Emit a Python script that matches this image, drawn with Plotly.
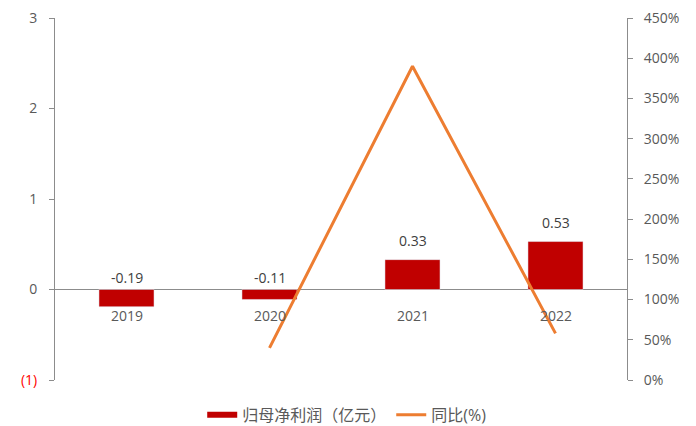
import plotly.graph_objects as go

years = ["2019", "2020", "2021", "2022"]
profit = [-0.19, -0.11, 0.33, 0.53]
yoy = [None, 40, 390, 58]
profit_labels = ["-0.19", "-0.11", "0.33", "0.53"]
left_ticks = [-1, 0, 1, 2, 3]
left_ticktext = ['<span style="color:#FF0000">(1)</span>', "0", "1", "2", "3"]
right_ticks = [0, 50, 100, 150, 200, 250, 300, 350, 400, 450]
right_ticktext = ["0%", "50%", "100%", "150%", "200%", "250%", "300%", "350%", "400%", "450%"]

axis_col = "#8C8C8C"
text_col = "#595959"
font_family = "Open Sans, Liberation Sans, Noto Sans CJK SC, sans-serif"

fig = go.Figure()
fig.add_trace(go.Bar(
    x=years, y=profit, name="归母净利润（亿元）", showlegend=False,
    marker=dict(color="#C00000"), width=0.385, yaxis="y"))
# legend entry for the bar series (wide red swatch)
fig.add_trace(go.Scatter(
    x=[years[0]], y=[None], name="归母净利润（亿元）", mode="lines",
    line=dict(color="#C00000", width=6), yaxis="y"))
fig.add_trace(go.Scatter(
    x=years, y=yoy, name="同比(%)", mode="lines",
    line=dict(color="#ED7D31", width=3), yaxis="y2", connectgaps=False))

for i, (yr, v, t) in enumerate(zip(years, profit, profit_labels)):
    fig.add_annotation(x=i, y=max(v, 0), text=t, showarrow=False,
                       yanchor="bottom", yshift=(8 if v > 0 else 1),
                       xref="x", yref="y",
                       font=dict(size=14, color="#404040"))
    fig.add_annotation(x=i, y=0, text=yr, showarrow=False,
                       yanchor="top", yshift=-14, xref="x", yref="y",
                       font=dict(size=14, color=text_col))

fig.update_layout(
    width=696, height=426,
    margin=dict(l=55, r=69, t=18, b=46, autoexpand=False),
    plot_bgcolor="white", paper_bgcolor="white",
    font=dict(family=font_family, size=14, color=text_col),
    showlegend=True,
    legend=dict(orientation="h", x=0.51, xanchor="center",
                yref="container", y=0.026, yanchor="middle",
                font=dict(size=16, color=text_col), traceorder="normal"),
    xaxis=dict(type="category", range=[-0.5, 3.5], showline=False,
               showticklabels=False, ticks="", showgrid=False, zeroline=False),
    yaxis=dict(range=[-1, 3], tickvals=left_ticks, ticktext=left_ticktext,
               showline=True, linecolor=axis_col, linewidth=1, ticks="outside",
               ticklen=5, tickcolor=axis_col, showgrid=False,
               zeroline=True, zerolinecolor=axis_col, zerolinewidth=1,
               ticklabelstandoff=9,
               tickfont=dict(size=14, color=text_col)),
    yaxis2=dict(range=[0, 450], tickvals=right_ticks, ticktext=right_ticktext,
                overlaying="y", side="right", showline=True, linecolor=axis_col,
                linewidth=1, ticks="outside", ticklen=5, tickcolor=axis_col,
                showgrid=False, zeroline=False, ticklabelstandoff=8,
                tickfont=dict(size=14, color=text_col)),
)

fig.write_html("out.html")
